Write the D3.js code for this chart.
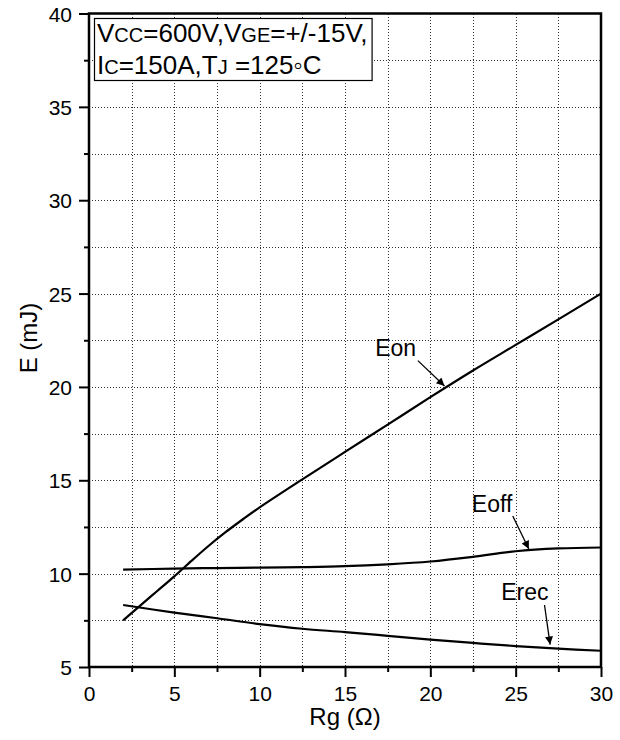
<!DOCTYPE html>
<html><head><meta charset="utf-8">
<script src="https://cdn.jsdelivr.net/npm/d3@7"></script>
<style>body{margin:0;background:#fff}svg{display:block}text{font-family:"Liberation Sans",Arial,sans-serif;fill:#000}</style>
</head><body><svg id="c" width="620" height="740"></svg>
<script>
const rgEon  = [2, 3, 4, 5, 6, 7, 8, 9, 10, 12.5, 15, 17.5, 20, 22.5, 25, 27.5, 30];
const eonVals= [7.5, 8.29, 9.07, 9.85, 10.68, 11.48, 12.22, 12.9, 13.55, 15.05, 16.52, 17.98, 19.45, 20.88, 22.25, 23.62, 25.0];
const rgEoff = [2, 5, 7.5, 10, 12.5, 15, 17.5, 20, 22.5, 25, 27.5, 30];
const eoffVals=[10.22, 10.27, 10.3, 10.32, 10.35, 10.4, 10.5, 10.65, 10.9, 11.2, 11.35, 11.4];
const rgErec = [2, 5, 7.5, 10, 12.5, 15, 17.5, 20, 22.5, 25, 27.5, 30];
const erecVals=[8.32, 7.91, 7.61, 7.3, 7.05, 6.87, 6.67, 6.47, 6.29, 6.12, 5.98, 5.87];
const xTicks = [0, 5, 10, 15, 20, 25, 30];
const yTicks = [5, 10, 15, 20, 25, 30, 35, 40];
const xTitle = "Rg (Ω)";
const yTitle = "E (mJ)";

const svg = d3.select("#c");
const L = 89, R = 601, T = 13.5, B = 667;
const x = d3.scaleLinear().domain([0, 30]).range([L, R]);
const y = d3.scaleLinear().domain([5, 40]).range([B, T]);

// grid (dotted)
const gridX = d3.range(2.5, 30, 2.5), gridY = d3.range(7.5, 40, 2.5);
const g = svg.append("g").attr("class", "grid");
g.selectAll(".gx").data(gridX).enter().append("path").attr("class", "gx")
  .attr("d", d => `M${Math.round(x(d)) + 0.5},${T}V${B}`);
g.selectAll(".gy").data(gridY).enter().append("path").attr("class", "gy")
  .attr("d", d => `M${L},${Math.round(y(d)) + 0.5}H${R}`);
g.selectAll("path").attr("fill", "none").attr("stroke", "#000").attr("stroke-width", 1)
  .attr("stroke-dasharray", "1,2").attr("stroke-opacity", 0.8).attr("shape-rendering", "crispEdges");

// axes
const FONT = '"Liberation Sans",Arial,sans-serif';
const xAxis = d3.axisBottom(x).tickValues(xTicks).tickSize(10).tickFormat(d3.format("d"));
const xMinor = d3.axisBottom(x).tickValues(d3.range(2.5, 30, 5)).tickSize(5).tickFormat("");
const yAxis = d3.axisLeft(y).tickValues(yTicks).tickSize(10).tickFormat(d3.format("d"));
const yMinor = d3.axisLeft(y).tickValues(d3.range(7.5, 40, 5)).tickSize(5).tickFormat("");
function style(sel){ sel.select(".domain").remove(); sel.selectAll("line").attr("stroke","#000").attr("stroke-width",2); sel.selectAll("text").attr("font-size",21).attr("fill","#000").attr("font-family",FONT); }
svg.append("g").attr("transform", `translate(0,${B})`).call(xAxis).call(style).selectAll("text").attr("dy", null).attr("y", 34);
svg.append("g").attr("transform", `translate(0,${B})`).call(xMinor).call(style);
svg.append("g").attr("transform", `translate(${L},0)`).call(yAxis).call(style).selectAll("text").attr("x", -17).attr("dy", "0.36em");
svg.append("g").attr("transform", `translate(${L},0)`).call(yMinor).call(style);
svg.append("rect").attr("x", L).attr("y", T).attr("width", R - L).attr("height", B - T).attr("fill", "none").attr("stroke", "#000").attr("stroke-width", 2.5);

// curves
const line = d3.line().x(d => x(d[0])).y(d => y(d[1])).curve(d3.curveCatmullRom.alpha(0.5));
[[rgEon, eonVals], [rgEoff, eoffVals], [rgErec, erecVals]].forEach(([xs, ys]) => {
  svg.append("path").datum(xs.map((v, i) => [v, ys[i]])).attr("d", line).attr("fill", "none").attr("stroke", "#000").attr("stroke-width", 2.2);
});

// annotations
svg.append("defs").append("marker").attr("id", "ah").attr("viewBox", "0 0 10 10").attr("refX", 10).attr("refY", 5)
  .attr("markerWidth", 12).attr("markerHeight", 8).attr("markerUnits", "userSpaceOnUse").attr("orient", "auto")
  .append("path").attr("d", "M0,0 L10,5 L0,10 Z").attr("fill", "#000");
const notes = [
  {t: "Eon",  lx: 16.83, ly: 21.66, ax1: 19.27, ay1: 21.41, ax2: 20.83, ay2: 20.05},
  {t: "Eoff", lx: 22.49, ly: 13.32, ax1: 24.83, ay1: 13.09, ax2: 25.77, ay2: 11.32},
  {t: "Erec", lx: 24.21, ly: 8.59,  ax1: 26.69, ay1: 8.32,  ax2: 27.02, ay2: 6.2}
];
notes.forEach(n => {
  svg.append("text").attr("x", x(n.lx) - 1).attr("y", y(n.ly)).attr("font-size", 23).text(n.t);
  svg.append("line").attr("x1", x(n.ax1)).attr("y1", y(n.ay1)).attr("x2", x(n.ax2)).attr("y2", y(n.ay2))
    .attr("stroke", "#000").attr("stroke-width", 1.3).attr("marker-end", "url(#ah)");
});

// legend box
const lg = svg.append("g");
const t1 = lg.append("text").attr("x", 97).attr("y", 42).attr("font-size", 26);
[["V",26],["CC",20],["=600V,V",26],["GE",20],["=+/-15V,",26]].forEach(([s,f]) => t1.append("tspan").attr("font-size", f).text(s));
const t2 = lg.append("text").attr("x", 97).attr("y", 74).attr("font-size", 26);
[["I",26],["C",20],["=150A,T",26],["J",20],[" =125",26],["◦",26],["C",26]].forEach(([s,f]) => t2.append("tspan").attr("font-size", f).text(s));
const w = Math.max(t1.node().getComputedTextLength(), t2.node().getComputedTextLength());
lg.insert("rect", "text").attr("x", 94.5).attr("y", 18.5).attr("width", w + 7).attr("height", 62).attr("fill", "#fff").attr("stroke", "#000").attr("stroke-width", 1.2);

// titles
svg.append("text").attr("x", (L + R) / 2).attr("y", 725).attr("text-anchor", "middle").attr("font-size", 24).text(xTitle);
svg.append("text").attr("transform", "translate(37,338) rotate(-90)").attr("text-anchor", "middle").attr("font-size", 24).text(yTitle);
</script></body></html>
